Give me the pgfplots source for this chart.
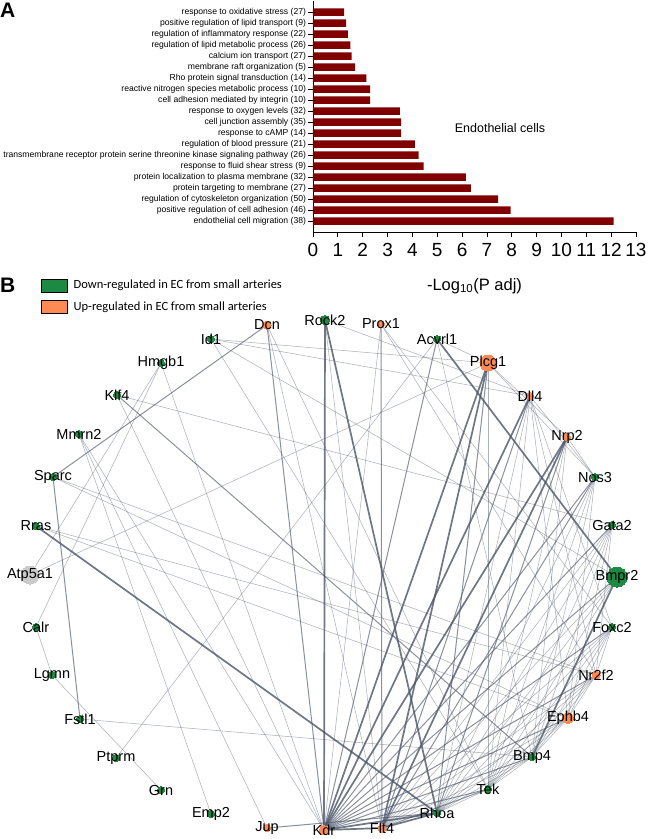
\documentclass[border=0pt]{standalone}
\usepackage{fontspec}
\setmainfont{Liberation Sans}
\newfontfamily\legfont{Carlito}
\usepackage{pgfplots}
\pgfplotsset{compat=1.18}
\definecolor{barred}{HTML}{800000}
\definecolor{dn}{HTML}{1D8A44}
\definecolor{up}{HTML}{FF8A54}
\definecolor{greyn}{HTML}{CACACA}
\definecolor{edgec}{HTML}{4B5468}

% node positions (x, y in pixels, y downwards)
\newcommand\N[3]{\expandafter\def\csname nx#1\endcsname{#2}\expandafter\def\csname ny#1\endcsname{#3}}
\N{Atp5a1}{30}{575}
\N{Rras}{36}{526}
\N{Sparc}{53}{477}
\N{Mmrn2}{79}{434}
\N{Klf4}{117}{395}
\N{Hmgb1}{161}{363}
\N{Id1}{211}{339}
\N{Dcn}{267}{325}
\N{Rock2}{325}{320}
\N{Prox1}{381}{324}
\N{Acvrl1}{437}{339}
\N{Plcg1}{488}{363}
\N{Dll4}{530}{396}
\N{Nrp2}{567}{437}
\N{Nos3}{595}{477}
\N{Gata2}{612}{525}
\N{Bmpr2}{617}{577}
\N{Foxc2}{612}{627}
\N{Nr2f2}{596}{675}
\N{Ephb4}{568}{718}
\N{Bmp4}{532}{757}
\N{Tek}{488}{789}
\N{Rhoa}{437}{813}
\N{Flt4}{382}{828}
\N{Kdr}{324}{830}
\N{Jup}{267}{828}
\N{Emp2}{211}{814}
\N{Grn}{161}{790}
\N{Ptprm}{116}{758}
\N{Fstl1}{80}{719}
\N{Lgmn}{52}{675}
\N{Calr}{36}{627}

\pgfplotsset{
 e1/.style={draw=edgec, line width=0.55pt, draw opacity=0.45},
 e2/.style={line width=1.0pt, draw opacity=0.65},
 e3/.style={line width=1.7pt, draw opacity=0.8},
}
\newcommand\labfont{\fontsize{14.5}{15}\selectfont}
\pgfplotsset{lab/.style={only marks, mark=*, mark size=0pt, mark options={draw=none, fill=none},
  nodes near coords={#1}, every node near coord/.style={anchor=center, font=\labfont, text=black, inner sep=0pt}}}
\newcommand\E[3][]{\edef\tmp{\noexpand\addplot[e1,#1] coordinates {(\csname nx#2\endcsname,\csname ny#2\endcsname) (\csname nx#3\endcsname,\csname ny#3\endcsname)};}\tmp}
\newcommand\M[3]{\edef\tmp{\noexpand\addplot[only marks, color=#2, mark=*, mark size=#3, mark options={solid, fill=#2, draw=#2, line width=0pt}] coordinates {(\csname nx#1\endcsname,\csname ny#1\endcsname)};}\tmp}
\newcommand\Lb[1]{\edef\tmp{\noexpand\addplot[lab={#1}] coordinates {(\csname nx#1\endcsname,\csname ny#1\endcsname)};}\tmp}

\begin{document}
\begin{tikzpicture}
\useasboundingbox (0pt,0pt) rectangle (650pt,-839pt);

% ---------------- Panel B: network ----------------
\begin{axis}[
  at={(0pt,0pt)}, anchor=north west,
  scale only axis, width=650pt, height=839pt,
  xmin=0, xmax=650, ymin=0, ymax=839, y dir=reverse,
  hide axis, clip=false,
  legend style={at={(axis cs:41,278)}, anchor=north west, draw=none, fill=none,
    font=\legfont\fontsize{12.5}{13}\selectfont, inner sep=0pt, row sep=7pt,
    nodes={inner xsep=6pt}},
  legend cell align=left,
  legend image code/.code={\fill[#1] (0pt,-6.5pt) rectangle (26pt,6.5pt);},
]
\addlegendimage{fill=dn}
\addlegendentry{Down-regulated in EC from small arteries}
\addlegendimage{fill=up}
\addlegendentry{Up-regulated in EC from small arteries}

% thin edges
\E{Atp5a1}{Plcg1}
\E{Atp5a1}{Hmgb1}
\E{Calr}{Hmgb1}
\E{Calr}{Lgmn}
\E{Lgmn}{Grn}
\E{Ptprm}{Acvrl1}
\E{Fstl1}{Bmp4}
\E{Emp2}{Mmrn2}
\E{Mmrn2}{Jup}
\E{Mmrn2}{Kdr}
\E{Rras}{Ephb4}
\E{Rras}{Nr2f2}
\E{Sparc}{Nr2f2}
\E{Sparc}{Ephb4}
\E{Klf4}{Gata2}
\E{Klf4}{Kdr}
\E{Hmgb1}{Kdr}
\E{Id1}{Dll4}
\E{Id1}{Bmpr2}
\E{Id1}{Tek}
\E{Id1}{Plcg1}
\E{Dcn}{Flt4}
\E{Dcn}{Tek}
\E{Rock2}{Dll4}
\E{Rock2}{Flt4}
\E{Prox1}{Foxc2}
\E{Prox1}{Nr2f2}
\E{Prox1}{Kdr}
\E{Acvrl1}{Bmp4}
\E{Acvrl1}{Plcg1}
\E{Plcg1}{Tek}
\E{Plcg1}{Nrp2}
\E{Plcg1}{Nos3}
\E{Dll4}{Rhoa}
\E{Dll4}{Tek}
\E{Dll4}{Nos3}
\E{Dll4}{Ephb4}
\E{Dll4}{Nr2f2}
\E{Nrp2}{Tek}
\E{Nrp2}{Nos3}
\E{Nrp2}{Bmp4}
\E{Nos3}{Rhoa}
\E{Nos3}{Tek}
\E{Nos3}{Bmp4}
\E{Nos3}{Ephb4}
\E{Gata2}{Flt4}
\E{Gata2}{Tek}
\E{Gata2}{Bmp4}
\E{Gata2}{Rhoa}
\E{Gata2}{Ephb4}
\E{Gata2}{Nr2f2}
\E{Bmpr2}{Flt4}
\E{Bmpr2}{Rhoa}
\E{Bmpr2}{Tek}
\E{Foxc2}{Flt4}
\E{Foxc2}{Rhoa}
\E{Foxc2}{Tek}
\E{Foxc2}{Bmp4}
\E{Foxc2}{Nr2f2}
\E{Foxc2}{Ephb4}
\E{Foxc2}{Dll4}
\E{Nr2f2}{Flt4}
\E{Nr2f2}{Tek}
\E{Nr2f2}{Ephb4}
\E{Nr2f2}{Bmp4}
\E{Nr2f2}{Rhoa}
\E{Ephb4}{Flt4}
\E{Ephb4}{Rhoa}
\E{Ephb4}{Tek}
\E{Ephb4}{Bmp4}
\E{Bmp4}{Flt4}
\E{Bmp4}{Rhoa}
\E{Bmp4}{Tek}
\E{Tek}{Rhoa}
% medium edges
\E[e2]{Klf4}{Bmp4}
\E[e2]{Dcn}{Kdr}
\E[e2]{Dcn}{Sparc}
\E[e2]{Prox1}{Flt4}
\E[e2]{Sparc}{Fstl1}
\E[e2]{Nos3}{Kdr}
\E[e2]{Nos3}{Flt4}
\E[e2]{Gata2}{Kdr}
\E[e2]{Bmpr2}{Kdr}
\E[e2]{Foxc2}{Kdr}
\E[e2]{Nr2f2}{Kdr}
\E[e2]{Ephb4}{Kdr}
\E[e2]{Bmp4}{Kdr}
\E[e2]{Tek}{Kdr}
\E[e2]{Tek}{Flt4}
\E[e2]{Plcg1}{Rhoa}
\E[e2]{Nrp2}{Rhoa}
\E[e2]{Jup}{Rhoa}
\E[e2]{Acvrl1}{Kdr}
\E[e2]{Dll4}{Flt4}
% thick edges
\E[e3]{Kdr}{Flt4}
\E[e3]{Kdr}{Rhoa}
\E[e3]{Flt4}{Rhoa}
\E[e3]{Rock2}{Kdr}
\E[e3]{Rock2}{Rhoa}
\E[e3]{Plcg1}{Kdr}
\E[e3]{Plcg1}{Flt4}
\E[e3]{Nrp2}{Kdr}
\E[e3]{Nrp2}{Flt4}
\E[e3]{Dll4}{Kdr}
\E[e3]{Bmpr2}{Bmp4}
\E[e3]{Acvrl1}{Bmpr2}
\E[e3]{Rras}{Rhoa}

% nodes
\M{Atp5a1}{greyn}{9}
\M{Rras}{dn}{3.5}
\M{Sparc}{dn}{3.5}
\M{Mmrn2}{dn}{3.5}
\M{Klf4}{dn}{3.5}
\M{Hmgb1}{dn}{3.5}
\M{Id1}{dn}{3.5}
\M{Dcn}{up}{4}
\M{Rock2}{dn}{4.5}
\M{Prox1}{up}{3.5}
\M{Acvrl1}{dn}{3.5}
\M{Plcg1}{up}{8}
\M{Dll4}{up}{3.5}
\M{Nrp2}{up}{3.5}
\M{Nos3}{dn}{3.5}
\M{Gata2}{dn}{3.5}
\M{Bmpr2}{dn}{10}
\M{Foxc2}{dn}{3.5}
\M{Nr2f2}{up}{4}
\M{Ephb4}{up}{5.5}
\M{Bmp4}{dn}{3.5}
\M{Tek}{dn}{3.5}
\M{Rhoa}{dn}{3.5}
\M{Flt4}{up}{4}
\M{Kdr}{up}{4.5}
\M{Jup}{up}{3.5}
\M{Emp2}{dn}{3.5}
\M{Grn}{dn}{3.5}
\M{Ptprm}{dn}{3.5}
\M{Fstl1}{dn}{3.5}
\M{Lgmn}{dn}{3.5}
\M{Calr}{dn}{3.5}

% labels
\Lb{Atp5a1}\Lb{Rras}\Lb{Sparc}\Lb{Mmrn2}\Lb{Klf4}\Lb{Hmgb1}\Lb{Id1}\Lb{Dcn}
\Lb{Rock2}\Lb{Prox1}\Lb{Acvrl1}\Lb{Plcg1}\Lb{Dll4}\Lb{Nrp2}\Lb{Nos3}\Lb{Gata2}
\Lb{Bmpr2}\Lb{Foxc2}\Lb{Nr2f2}\Lb{Ephb4}\Lb{Bmp4}\Lb{Tek}\Lb{Rhoa}\Lb{Flt4}
\Lb{Kdr}\Lb{Jup}\Lb{Emp2}\Lb{Grn}\Lb{Ptprm}\Lb{Fstl1}\Lb{Lgmn}\Lb{Calr}
\end{axis}

% ---------------- Panel A: bar chart ----------------
\begin{axis}[
  at={(313pt,-232pt)}, anchor=south west,
  scale only axis, width=323pt, height=231pt,
  xmin=0, xmax=13, ymin=0, ymax=21,
  axis x line*=bottom, axis y line*=left,
  axis line style={line width=0.8pt},
  xtick={0,...,13}, ytick={1,...,20},
  yticklabels={
    endothelial cell migration (38),
    positive regulation of cell adhesion (46),
    regulation of cytoskeleton organization (50),
    protein targeting to membrane (27),
    protein localization to plasma membrane (32),
    response to fluid shear stress (9),
    transmembrane receptor protein serine threonine kinase signaling pathway (26),
    regulation of blood pressure (21),
    response to cAMP (14),
    cell junction assembly (35),
    response to oxygen levels (32),
    cell adhesion mediated by integrin (10),
    reactive nitrogen species metabolic process (10),
    Rho protein signal transduction (14),
    membrane raft organization (5),
    calcium ion transport (27),
    regulation of lipid metabolic process (26),
    regulation of inflammatory response (22),
    positive regulation of lipid transport (9),
    response to oxidative stress (27)},
  tick align=outside, major tick length=4.5pt,
  tick style={line width=0.8pt, black},
  /pgf/number format/assume math mode=true,
  x tick label style={font=\fontsize{19}{19}\selectfont, yshift=-3pt},
  y tick label style={font=\fontsize{8.6}{9}\selectfont, xshift=1pt},
  xlabel={-Log\textsubscript{10}(P adj)},
  xlabel style={font=\fontsize{16.5}{17}\selectfont, at={(axis description cs:0.5,0)}, anchor=center, yshift=-54pt},
  clip=false,
]
\addplot[xbar, bar width=7.5pt, fill=barred, draw=none] table {
x y
12.1 1
7.95 2
7.45 3
6.35 4
6.15 5
4.45 6
4.25 7
4.1 8
3.55 9
3.55 10
3.5 11
2.3 12
2.3 13
2.15 14
1.7 15
1.55 16
1.5 17
1.4 18
1.33 19
1.25 20
};
\end{axis}

\node[anchor=north west, inner sep=0pt, font=\bfseries\fontsize{21}{21}\selectfont] at (0pt,-3pt) {A};
\node[anchor=north west, inner sep=0pt, font=\bfseries\fontsize{21}{21}\selectfont] at (0pt,-278pt) {B};
\node[inner sep=0pt, font=\fontsize{12.5}{13}\selectfont] at (500pt,-128pt) {Endothelial cells};
\end{tikzpicture}
\end{document}
